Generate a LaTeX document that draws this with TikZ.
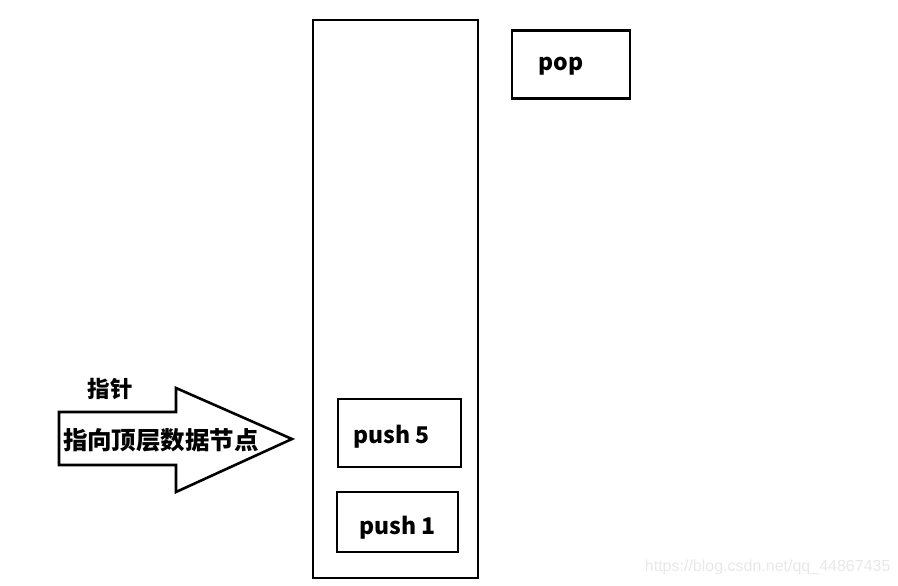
\documentclass[tikz,border=0pt]{standalone}
\usepackage{fontspec}
\setmainfont{Noto Sans CJK SC}
\newfontfamily\cjk{Noto Sans CJK SC}
\newfontfamily\wmfont{Liberation Sans}
\usetikzlibrary{positioning, calc}
\tikzset{
  stackbox/.style={draw=black, line width=2.6pt},
  opbox/.style={draw=black, line width=2.6pt, minimum width=#1, minimum height=68pt, inner sep=0pt},
  optext/.style={font=\cjk\bfseries\fontsize{23}{26}\selectfont},
}

\begin{document}
\begin{tikzpicture}[x=1pt, y=-1pt]
    \useasboundingbox (0,0) rectangle (898,586);

    % Stack
    \draw[stackbox] (313,20) rectangle (478,578);

    % Operations
    \node[opbox=118pt] (pop) at (571,64.5) {};
    \node[optext, anchor=west] (poptext) at (535,66) {pop};
    \node[opbox=123pt] (push5) at (399.5,433) {};
    \node[optext, anchor=west] at (350,437) {push\ 5};
    \node[opbox=121pt, minimum height=60pt] (push1) at (397.5,522) {};
    \node[optext, anchor=west] at (356,528) {push 1};

    % Pointer arrow
    \draw[line width=2.6pt, line join=miter]
        (59,412) -- (176,412) -- (176,388) -- (292,439) -- (176,492)
        -- (176,465) -- (59,465) -- cycle;
    \node[font=\cjk\bfseries\fontsize{22.5}{24}\selectfont] (ptr) at (110,389) {指针};
    \node[font=\cjk\bfseries\fontsize{24.5}{26}\selectfont] (ptrtext) at (161,440) {指向顶层数据节点};

    % Watermark
    \node[font=\wmfont\fontsize{16}{18}\selectfont, text=black!9, anchor=east] at (894,567) {https://blog.csdn.net/qq\_44867435};
\end{tikzpicture}
\end{document}
